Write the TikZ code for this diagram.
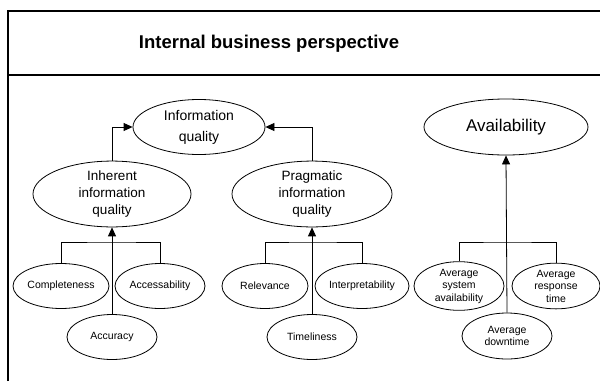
\documentclass[tikz,border=0pt]{standalone}
\usepackage{fontspec}
\setmainfont{Liberation Sans}
\usetikzlibrary{shapes.geometric,arrows.meta}
\begin{document}
\begin{tikzpicture}[x=1pt,y=-1pt,
  ell/.style={ellipse,draw,line width=0.8pt,inner sep=0pt,align=center},
  big/.style={ell,font=\fontsize{14}{21}\selectfont},
  mid/.style={ell,font=\fontsize{13.5}{17}\selectfont},
  small/.style={ell,font=\fontsize{10.5}{12.5}\selectfont},
  conn/.style={line width=0.8pt},
  arr/.style={line width=0.8pt,-{Triangle[length=9pt,width=8pt]}},
  frame/.style={line width=2.2pt}]
\useasboundingbox (0,0) rectangle (600,381);
\draw[frame] (8,381) -- (8,11) -- (610,11);
\draw[frame] (8,75) -- (610,75);
\node[font=\fontsize{18.5}{22}\selectfont\bfseries] (title) at (269,44) {Internal business perspective};
% main ellipses
\node[big,minimum width=132pt,minimum height=55pt] (iq) at (199,127) {Information\\quality};
\node[ell,font=\fontsize{17}{20}\selectfont,minimum width=164pt,minimum height=56pt] (av) at (506,127) {Availability};
\node[mid,minimum width=158pt,minimum height=59pt] (inh) at (112,194) {Inherent\\information\\quality};
\node[mid,minimum width=160pt,minimum height=59pt] (prag) at (312,194) {Pragmatic\\information\\quality};
% children
\node[small,minimum width=96pt,minimum height=45pt] (comp) at (61,286) {Completeness};
\node[small,minimum width=90pt,minimum height=45pt] (acc) at (160,286) {Accessability};
\node[small,minimum width=90pt,minimum height=45pt] (accu) at (112,337) {Accuracy};
\node[small,minimum width=86pt,minimum height=45pt] (rel) at (265,286) {Relevance};
\node[small,minimum width=94pt,minimum height=45pt] (interp) at (362,286) {Interpretability};
\node[small,minimum width=90pt,minimum height=45pt] (time) at (312,337) {Timeliness};
\node[small,minimum width=90pt,minimum height=45pt] (asa) at (459,286) {Average\\system\\availability};
\node[small,minimum width=88pt,minimum height=45pt] (art) at (556,286) {Average\\response\\time};
\node[small,minimum width=90pt,minimum height=46pt] (adt) at (507,336) {Average\\downtime};
% bracket coordinates
\coordinate (b1) at (112,242);
\coordinate (b2) at (312,242);
\coordinate (b3) at (507,242);
% connectors
\draw[arr] (inh.north) |- (iq.west);
\draw[arr] (prag.north) |- (iq.east);
\draw[conn] (comp.north) |- (b1) -| (acc.north);
\draw[arr] (accu.north) -- (inh.south);
\draw[conn] (rel.north) |- (b2) -| (interp.north);
\draw[arr] (time.north) -- (prag.south);
\draw[conn] (asa.north) |- (b3) -| (art.north);
\draw[arr] (adt.north) -- (av.south);
\end{tikzpicture}
\end{document}
